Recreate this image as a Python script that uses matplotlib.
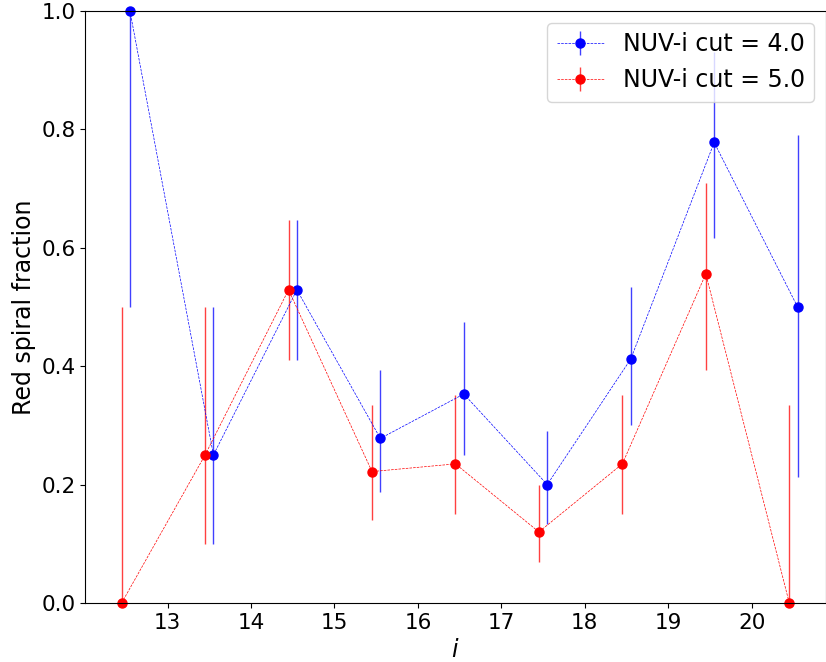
import matplotlib
matplotlib.use("Agg")
import matplotlib.pyplot as plt
import numpy as np

# Data
x_blue = [12.55, 13.55, 14.55, 15.55, 16.55, 17.55, 18.55, 19.55, 20.55]
y_blue = [1.0, 0.25, 0.529, 0.278, 0.353, 0.2, 0.412, 0.778, 0.5]
lo_blue = [0.5, 0.1, 0.41, 0.1875, 0.25, 0.133, 0.30, 0.616, 0.213]
hi_blue = [1.0, 0.5, 0.647, 0.393, 0.475, 0.291, 0.534, 0.93, 0.79]

x_red = [12.45, 13.45, 14.45, 15.45, 16.45, 17.45, 18.45, 19.45, 20.45]
y_red = [0.0, 0.25, 0.529, 0.222, 0.235, 0.12, 0.235, 0.556, 0.0]
lo_red = [0.0, 0.1, 0.41, 0.14, 0.15, 0.07, 0.15, 0.394, 0.0]
hi_red = [0.5, 0.5, 0.647, 0.334, 0.351, 0.2, 0.352, 0.709, 0.334]

labels = ["NUV-i cut = 4.0", "NUV-i cut = 5.0"]

fig = plt.figure(figsize=(8.26, 6.62), dpi=100)
ax = fig.add_axes([85.4 / 826, (662 - 603) / 662, (826 - 85.4) / 826, (603 - 11) / 662])

def plot_series(x, y, lo, hi, color, label):
    y = np.array(y); lo = np.array(lo); hi = np.array(hi)
    yerr = np.vstack([y - lo, hi - y])
    c = matplotlib.colors.to_rgba(color)
    ax.errorbar(x, y, yerr=yerr, fmt='o', ls='--', lw=0.5, color=color,
                ecolor=(c[0], c[1], c[2], 0.75), elinewidth=1.0, capsize=0,
                markersize=6.5, label=label, clip_on=False)

plot_series(x_blue, y_blue, lo_blue, hi_blue, 'blue', labels[0])
plot_series(x_red, y_red, lo_red, hi_red, 'red', labels[1])

ax.set_xlim(12.016, 20.89)
ax.set_ylim(0, 1)
ax.set_xticks(np.arange(13, 21))
ax.set_yticks([0.0, 0.2, 0.4, 0.6, 0.8, 1.0])
ax.tick_params(labelsize=15.5)
ax.set_xlabel(r"$i$", fontsize=17)
ax.set_ylabel("Red spiral fraction", fontsize=17)
ax.legend(loc='upper right', fontsize=17)

fig.savefig("out.png", dpi=100)
